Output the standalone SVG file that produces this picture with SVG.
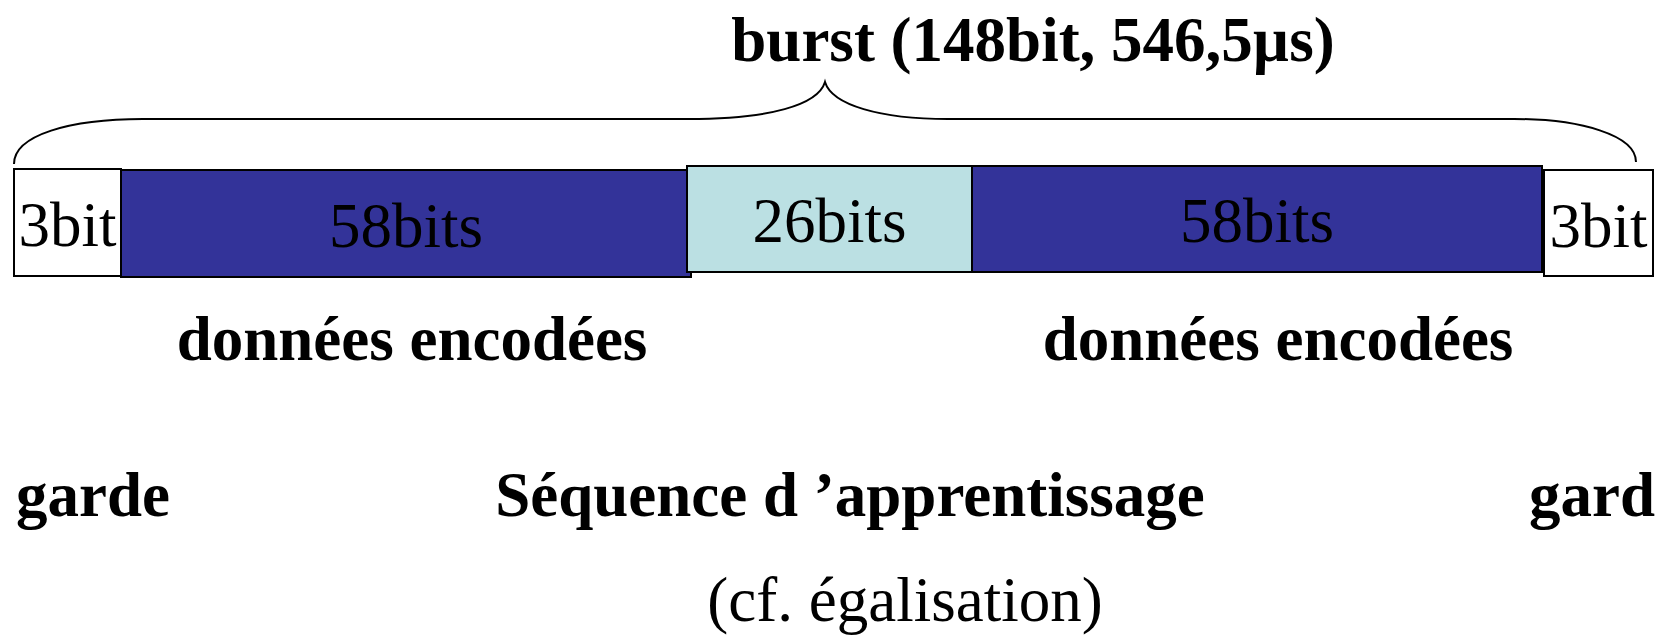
<svg xmlns="http://www.w3.org/2000/svg" width="1656" height="641" viewBox="0 0 1656 641">
<style>
.box{stroke:#000;stroke-width:2}
.g{fill:#fff}
.b{fill:#333399}
.c{fill:#BBE0E3}
.t{font-family:"Liberation Serif","Times New Roman",serif;font-size:63px;fill:#000;text-anchor:middle}
.bold{font-weight:bold}
.brace{fill:none;stroke:#000;stroke-width:2}
</style>
<rect width="1656" height="641" fill="#fff"/>
<g id="connectors">
<path class="brace" d="M14,164 C14,135 70,119 143,119 L688,119 C770,119 818,105 825,82 C832,105 880,119 948,119 L1514,119 C1580,119 1636,135 1636,162"/>
</g>
<g id="guard-left"><rect class="box g" x="14" y="169" width="107" height="107"/><text class="t" x="67.5" y="246">3bit</text></g>
<g id="data-left"><rect class="box b" x="121" y="170" width="570" height="107"/><text class="t" x="406" y="247">58bits</text></g>
<g id="training"><rect class="box c" x="687" y="166" width="285" height="106"/><text class="t" x="829.5" y="242">26bits</text></g>
<g id="data-right"><rect class="box b" x="972" y="166" width="570" height="106"/><text class="t" x="1257" y="242">58bits</text></g>
<g id="guard-right"><rect class="box g" x="1544" y="170" width="109" height="106"/><text class="t" x="1598.5" y="247">3bit</text></g>
<g id="labels">
<text class="t bold" x="1033" y="61">burst (148bit, 546,5µs)</text>
<text class="t bold" x="412" y="360">données encodées</text>
<text class="t bold" x="1278" y="360">données encodées</text>
<text class="t bold" x="16" y="516" text-anchor="start" style="text-anchor:start">garde</text>
<text class="t bold" x="850" y="516">Séquence d ’apprentissage</text>
<text class="t bold" x="1529" y="516" style="text-anchor:start">gard</text>
<text class="t" x="905" y="621">(cf. égalisation)</text>
</g>
</svg>
